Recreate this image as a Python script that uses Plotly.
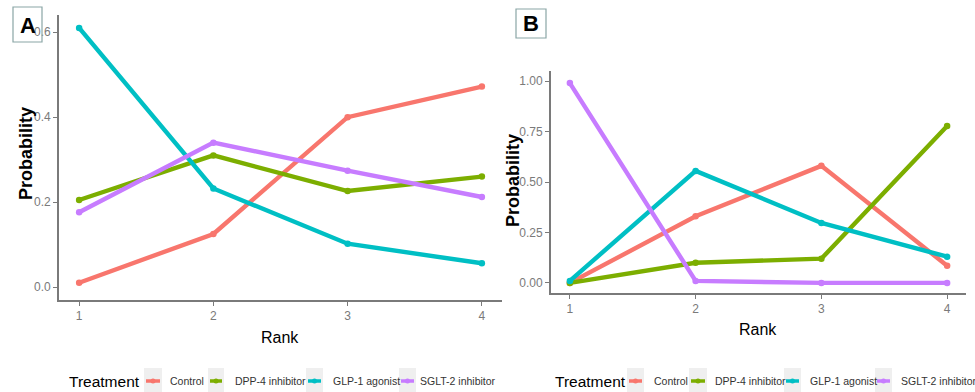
import plotly.graph_objects as go

ranks = [1, 2, 3, 4]
treatments = ["Control", "DPP-4 inhibitor", "GLP-1 agonist", "SGLT-2 inhibitor"]
colors = ["#F8766D", "#7CAE00", "#00BFC4", "#C77CFF"]

# Panel A
a_control = [0.01, 0.125, 0.40, 0.472]
a_dpp4 = [0.205, 0.31, 0.226, 0.26]
a_glp1 = [0.61, 0.232, 0.102, 0.056]
a_sglt2 = [0.176, 0.34, 0.274, 0.212]

# Panel B
b_control = [0.0, 0.33, 0.58, 0.085]
b_dpp4 = [0.0, 0.10, 0.12, 0.777]
b_glp1 = [0.01, 0.555, 0.297, 0.13]
b_sglt2 = [0.99, 0.01, 0.0, 0.0]

a_series = [a_control, a_dpp4, a_glp1, a_sglt2]
b_series = [b_control, b_dpp4, b_glp1, b_sglt2]

a_ticks = [0.0, 0.2, 0.4, 0.6]
a_ticklabels = ["0.0", "0.2", "0.4", "0.6"]
b_ticks = [0.0, 0.25, 0.5, 0.75, 1.0]
b_ticklabels = ["0.00", "0.25", "0.50", "0.75", "1.00"]

W, H = 975, 392
SANS = "Liberation Sans, Arial, sans-serif"


def px(x):
    return x / W


def py(y):
    return 1 - y / H


fig = go.Figure()
for i, name in enumerate(treatments):
    fig.add_trace(go.Scatter(
        x=ranks, y=a_series[i], name=name, mode="lines+markers",
        line=dict(color=colors[i], width=4.4), marker=dict(color=colors[i], size=6.5),
        xaxis="x", yaxis="y", showlegend=False))
for i, name in enumerate(treatments):
    fig.add_trace(go.Scatter(
        x=ranks, y=b_series[i], name=name, mode="lines+markers",
        line=dict(color=colors[i], width=4.4), marker=dict(color=colors[i], size=6.5),
        xaxis="x2", yaxis="y2", showlegend=False))

axis_common = dict(showgrid=False, zeroline=False, showline=True, linecolor="#7a7a7a",
                   linewidth=1.8, ticks="outside", ticklen=4, tickcolor="#7a7a7a",
                   tickwidth=1.2, tickfont=dict(family=SANS, size=12, color="#7a7a7a"))

fig.update_layout(
    width=W, height=H, autosize=False,
    margin=dict(l=0, r=0, t=0, b=0, autoexpand=False),
    paper_bgcolor="white", plot_bgcolor="white",
    showlegend=False,
    xaxis=dict(domain=[px(59), px(502)], range=[0.85, 4.15], tickvals=ranks,
               anchor="y", **axis_common),
    yaxis=dict(domain=[py(300), py(15)], range=[-0.0305, 0.6405],
               tickvals=a_ticks, ticktext=a_ticklabels, anchor="x", **axis_common),
    xaxis2=dict(domain=[px(551), px(966)], range=[0.85, 4.15], tickvals=ranks,
                anchor="y2", **axis_common),
    yaxis2=dict(domain=[py(293), py(71)], range=[-0.05, 1.05],
                tickvals=b_ticks, ticktext=b_ticklabels, anchor="x2", **axis_common),
)

annots = [
    dict(text="<b>Probability</b>", x=px(26), y=py(154), textangle=-90,
         font=dict(family=SANS, size=18, color="black")),
    dict(text="<b>Probability</b>", x=px(513), y=py(181), textangle=-90,
         font=dict(family=SANS, size=18, color="black")),
    dict(text="Rank", x=px(280), y=py(337),
         font=dict(family=SANS, size=16, color="black")),
    dict(text="Rank", x=px(758), y=py(329),
         font=dict(family=SANS, size=16, color="black")),
    dict(text="<b>A</b>", x=px(27.5), y=py(25),
         font=dict(family=SANS, size=22, color="black")),
    dict(text="<b>B</b>", x=px(531), y=py(24),
         font=dict(family=SANS, size=22, color="black")),
]
for a in annots:
    a.update(xanchor="center")

shapes = [
    dict(type="rect", x0=px(13), x1=px(42), y0=py(42), y1=py(7),
         line=dict(color="#8aa6a6", width=1.2), fillcolor="rgba(0,0,0,0)", layer="above"),
    dict(type="rect", x0=px(516), x1=px(546), y0=py(38), y1=py(9),
         line=dict(color="#8aa6a6", width=1.2), fillcolor="rgba(0,0,0,0)", layer="above"),
]

# Manual legends (ggplot style: title on the left, grey key boxes)
legend_layouts = [
    dict(title_x=67, keys=[(144, 162), (208, 224), (306, 323), (399, 416)],
         labels=[168, 233, 331, 418]),
    dict(title_x=553, keys=[(627, 644), (689, 707), (784, 801), (875, 892)],
         labels=[652, 713, 808, 899]),
]
LEG_Y = 381
for lg in legend_layouts:
    annots.append(dict(text="Treatment", x=px(lg["title_x"]), y=py(LEG_Y), xanchor="left",
                       font=dict(family=SANS, size=15.5, color="black")))
    for i, name in enumerate(treatments):
        k0, k1 = lg["keys"][i]
        shapes.append(dict(type="rect", x0=px(k0), x1=px(k1), y0=py(392), y1=py(368),
                           line=dict(width=0), fillcolor="#efefef", layer="below"))
        shapes.append(dict(type="line", x0=px(k0 + 2), x1=px(k1 - 2), y0=py(LEG_Y), y1=py(LEG_Y),
                           line=dict(color=colors[i], width=3.5), layer="above"))
        shapes.append(dict(type="circle", x0=px((k0 + k1) / 2 - 2.5), x1=px((k0 + k1) / 2 + 2.5),
                           y0=py(LEG_Y + 2.5), y1=py(LEG_Y - 2.5),
                           line=dict(width=0), fillcolor=colors[i], layer="above"))
        annots.append(dict(text=name, x=px(lg["labels"][i]), y=py(LEG_Y), xanchor="left",
                           font=dict(family=SANS, size=10.5, color="#333333")))

for a in annots:
    a.update(xref="paper", yref="paper", showarrow=False, yanchor="middle")
for s in shapes:
    s.update(xref="paper", yref="paper")

fig.update_layout(annotations=annots, shapes=shapes)

fig.write_html("out.html", config={"displayModeBar": False},
               post_script="document.body.style.margin='0';document.body.style.padding='0';")
